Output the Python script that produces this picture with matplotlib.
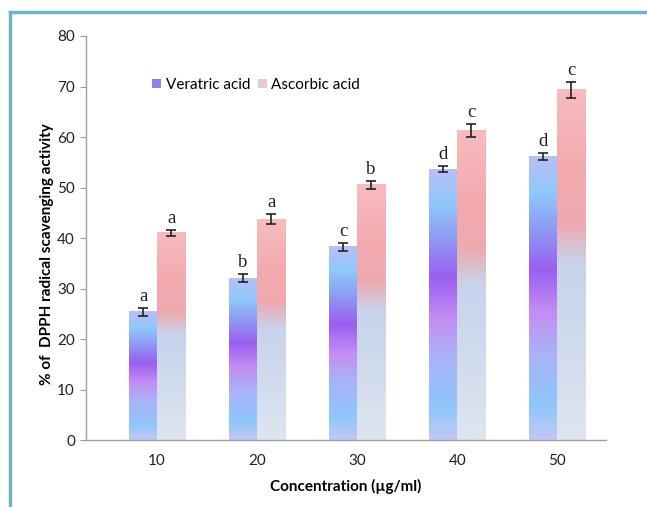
import numpy as np
import matplotlib
matplotlib.use("Agg")
import matplotlib.pyplot as plt
from matplotlib.colors import LinearSegmentedColormap
from matplotlib.patches import Patch
from matplotlib.lines import Line2D

concentrations = ["10", "20", "30", "40", "50"]
veratric = [25.4, 32.0, 38.3, 53.6, 56.2]
veratric_err = [0.8, 0.8, 0.8, 0.6, 0.7]
ascorbic = [41.0, 43.7, 50.5, 61.3, 69.3]
ascorbic_err = [0.6, 1.0, 0.8, 1.2, 1.5]
veratric_letters = ["a", "b", "c", "d", "d"]
ascorbic_letters = ["a", "a", "b", "c", "c"]

plt.rcParams['font.family'] = ['Lato', 'DejaVu Sans']

fig = plt.figure(figsize=(6.47, 5.07), dpi=100)
ax = fig.add_axes([0.133, 0.132, 0.804, 0.797])

ver_cmap = LinearSegmentedColormap.from_list("ver", [
    (0.0, "#c3c8f4"), (0.12, "#8fc6fb"), (0.30, "#a9b4f7"), (0.45, "#c48cf4"),
    (0.60, "#9a5ff0"), (0.75, "#8f9cf5"), (0.87, "#8ec8fb"), (1.0, "#b9bff6")])
asc_cmap = LinearSegmentedColormap.from_list("asc", [
    (0.0, "#dfe5f1"), (0.35, "#ccd8ec"), (0.50, "#c8d4ec"), (0.62, "#eeaab0"),
    (0.75, "#f2a9ae"), (1.0, "#f7bcbe")])

x = np.arange(len(concentrations))
w = 0.28
grad = np.linspace(0, 1, 256).reshape(-1, 1)

def gbar(xc, h, cmap):
    ax.imshow(grad, extent=[xc - w / 2, xc + w / 2, 0, h], origin="lower",
              aspect="auto", cmap=cmap, interpolation="bilinear", zorder=2)

for i in range(len(x)):
    gbar(x[i] - w / 2, veratric[i], ver_cmap)
    gbar(x[i] + w / 2, ascorbic[i], asc_cmap)

ax.errorbar(x - w / 2, veratric, yerr=veratric_err, fmt="none", ecolor="#222222",
            elinewidth=1.2, capsize=3.5, capthick=1.2, zorder=3)
ax.errorbar(x + w / 2, ascorbic, yerr=ascorbic_err, fmt="none", ecolor="#222222",
            elinewidth=1.2, capsize=3.5, capthick=1.2, zorder=3)

for i in range(len(x)):
    ax.text(x[i] - w / 2, veratric[i] + veratric_err[i] + 0.6, veratric_letters[i],
            ha="center", va="bottom", fontsize=13.5, family="Liberation Serif", color="#222222")
    ax.text(x[i] + w / 2, ascorbic[i] + ascorbic_err[i] + 0.6, ascorbic_letters[i],
            ha="center", va="bottom", fontsize=13.5, family="Liberation Serif", color="#222222")

ax.set_xlim(-0.71, 4.49)
ax.set_ylim(0, 80)
ax.set_yticks(np.arange(0, 81, 10))
ax.set_xticks(x)
ax.set_xticklabels(concentrations)
ax.tick_params(axis="y", length=4, color="#999999", labelsize=11, labelcolor="#222222", pad=4)
ax.tick_params(axis="x", length=0, labelsize=11, labelcolor="#222222", pad=10)
for s in ["top", "right"]:
    ax.spines[s].set_visible(False)
for s in ["left", "bottom"]:
    ax.spines[s].set_color("#a0a0a0")
    ax.spines[s].set_linewidth(1.0)

ax.set_xlabel("Concentration (µg/ml)", fontsize=11, fontweight="bold", labelpad=8)
ax.set_ylabel("% of  DPPH radical scavenging activity", fontsize=11, fontweight="bold")
ax.yaxis.set_label_coords(-0.062, 0.46)

handles = [Patch(facecolor="#8a80ee", edgecolor="none"),
           Patch(facecolor="#e6c8d8", edgecolor="none")]
ax.legend(handles, ["Veratric acid", "Ascorbic acid"], loc="upper left",
          bbox_to_anchor=(0.1, 0.93), ncol=2, frameon=False, fontsize=11,
          handlelength=0.6, handleheight=0.6, handletextpad=0.3, columnspacing=0.5)

# teal frame
fig.add_artist(Line2D([10 / 647, 10 / 647], [0, 1 - 12 / 507], color="#6cb6c4", lw=2.5,
                      transform=fig.transFigure))
fig.add_artist(Line2D([10 / 647, 1], [1 - 12 / 507, 1 - 12 / 507], color="#6cb6c4", lw=2.5,
                      transform=fig.transFigure))

fig.savefig("out.png", dpi=100)
